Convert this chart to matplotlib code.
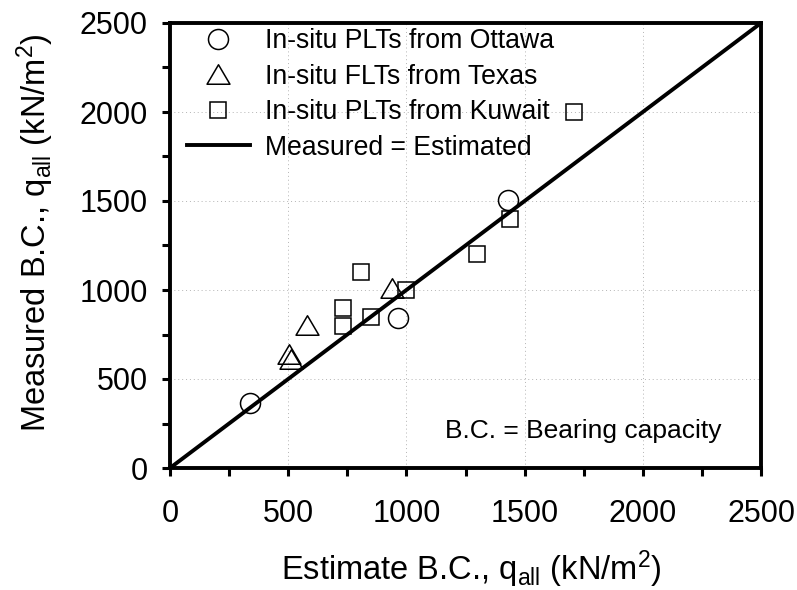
import matplotlib
matplotlib.use("Agg")
import matplotlib.pyplot as plt
from matplotlib.path import Path
from matplotlib.ticker import MultipleLocator

plt.rcParams['font.family'] = ['Liberation Sans', 'DejaVu Sans']
plt.rcParams['mathtext.fontset'] = 'custom'
plt.rcParams['mathtext.rm'] = 'Liberation Sans'
plt.rcParams['mathtext.it'] = 'Liberation Sans:italic'

# Data
ottawa_est = [340, 965, 1430]
ottawa_meas = [365, 840, 1505]
texas_est = [505, 510, 580, 940]
texas_meas = [640, 610, 805, 1010]
kuwait_est = [730, 730, 810, 850, 1000, 1300, 1440, 1710]
kuwait_meas = [900, 800, 1100, 850, 1000, 1200, 1400, 2000]
line_vals = [0, 2500]
ticks = [0, 500, 1000, 1500, 2000, 2500]

tri = Path([(-1, -0.85), (1, -0.85), (0, 0.85), (-1, -0.85)],
           [Path.MOVETO, Path.LINETO, Path.LINETO, Path.CLOSEPOLY])

fig = plt.figure(figsize=(7.97, 5.90), dpi=100)
ax = fig.add_axes([170/797, 1 - 468/590, 591/797, 445/590])

ax.plot(line_vals, line_vals, color='black', lw=2.8, zorder=3,
        label='Measured = Estimated')
ax.plot(ottawa_est, ottawa_meas, linestyle='none', marker='o', ms=14.4,
        mfc='none', mec='black', mew=1.1, zorder=4,
        label='In-situ PLTs from Ottawa')
ax.plot(texas_est, texas_meas, linestyle='none', marker=tri, ms=16.5,
        mfc='none', mec='black', mew=1.1, zorder=4,
        label='In-situ FLTs from Texas')
ax.plot(kuwait_est, kuwait_meas, linestyle='none', marker='s', ms=12,
        mfc='none', mec='black', mew=1.1, zorder=4,
        label='In-situ PLTs from Kuwait')

ax.set_xlim(0, 2500)
ax.set_ylim(0, 2500)
ax.set_xticks(ticks)
ax.set_yticks(ticks)
ax.xaxis.set_minor_locator(MultipleLocator(250))
ax.yaxis.set_minor_locator(MultipleLocator(250))
ax.tick_params(axis='both', which='both', direction='out', length=6, width=2.2,
               top=False, right=False)
ax.tick_params(axis='x', which='major', labelsize=22, pad=16)
ax.tick_params(axis='y', which='major', labelsize=22, pad=10)
for s in ax.spines.values():
    s.set_linewidth(2.8)

ax.grid(True, which='major', color='#b4b4b4', linestyle=(0, (1, 3)), lw=0.7)
ax.set_axisbelow(True)

ax.set_xlabel(r'Estimate B.C., q$_{\mathrm{all}}$ (kN/m$^{\mathrm{2}}$)',
              fontsize=23.5)
ax.set_ylabel(r'Measured B.C., q$_{\mathrm{all}}$ (kN/m$^{\mathrm{2}}$)',
              fontsize=23.5)
ax.xaxis.set_label_coords(0.51, -0.182)
ax.yaxis.set_label_coords(-0.193, 0.528)

h, l = ax.get_legend_handles_labels()
order = [1, 2, 3, 0]
ax.legend([h[i] for i in order], [l[i] for i in order], loc='upper left',
          bbox_to_anchor=(0.029, 0.988), frameon=False, fontsize=19.2,
          borderpad=0, borderaxespad=0, handlelength=2.35,
          handletextpad=0.58, labelspacing=0.355)

ax.text(1747, 208, 'B.C. = Bearing capacity', fontsize=19,
        ha='center', va='center')

fig.savefig('out.png', dpi=100)
